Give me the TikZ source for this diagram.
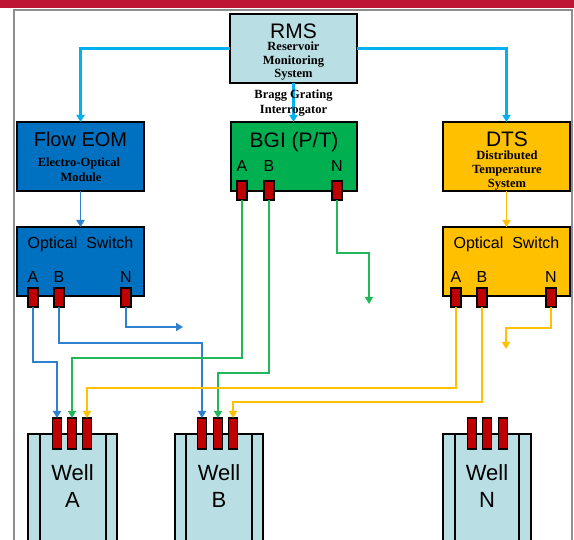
\documentclass[tikz,border=0pt]{standalone}
\usepackage{fontspec}
\setmainfont{Liberation Serif}
\setsansfont{Liberation Sans}
\usetikzlibrary{arrows.meta}
\definecolor{redbar}{HTML}{BE1632}
\definecolor{framegray}{HTML}{8E8E8E}
\definecolor{lightcyan}{HTML}{B9DFE4}
\definecolor{boxblue}{HTML}{0070C0}
\definecolor{boxgreen}{HTML}{00B050}
\definecolor{boxyellow}{HTML}{FFC000}
\definecolor{portred}{HTML}{C00000}
\definecolor{skyline}{HTML}{00B0F0}
\definecolor{wireblue}{HTML}{2F80D0}
\definecolor{wiregreen}{HTML}{22B85A}
\definecolor{wireyellow}{HTML}{FFC000}
\tikzset{
  box/.style={draw=black, line width=2.6pt, minimum width=127pt, minimum height=69pt, inner sep=0pt, outer sep=0pt},
  port/.style={draw=black, fill=portred, line width=1.4pt, minimum width=10pt, minimum height=19pt, inner sep=0pt, outer sep=0pt},
  wport/.style={port, minimum width=9pt, minimum height=31pt},
  wellbox/.style={draw=black, fill=lightcyan, line width=2.6pt},
  tip/.style={-{Triangle[width=8pt,length=7pt]}},
  wire/.style={line width=1.7pt, tip},
  bigtxt/.style={font=\sffamily\fontsize{21}{21}\selectfont, anchor=base, inner sep=0pt},
  midtxt/.style={font=\sffamily\fontsize{16}{16}\selectfont, anchor=base, inner sep=0pt},
  welltxt/.style={font=\sffamily\fontsize{22}{22}\selectfont, anchor=base, inner sep=0pt},
  smalltxt/.style={font=\bfseries\fontsize{12.5}{12.5}\selectfont, anchor=base, inner sep=0pt},
}
\begin{document}
\begin{tikzpicture}[x=1pt,y=-1pt]
\useasboundingbox (0,0) rectangle (574,540);
\clip (0,0) rectangle (574,540);
% frame
\fill[redbar] (0,0) rectangle (574,8);
\draw[framegray, line width=1.8pt] (13.7,545) -- (13.7,9.8) -- (572,9.8) -- (572,545);

% boxes
\node[box, fill=lightcyan] (rms) at (293.5,48.5) {};
\node[box, fill=boxblue] (eom) at (80.5,156.5) {};
\node[box, fill=boxgreen, minimum width=126pt] (bgi) at (294,156.5) {};
\node[box, fill=boxyellow] (dts) at (506.5,156.5) {};
\node[box, fill=boxblue] (swl) at (80.5,261.5) {};
\node[box, fill=boxyellow] (swr) at (506.5,261.5) {};

% wells
\draw[wellbox] (28,434) rectangle (117,560);
\draw[black, line width=2pt] (40,434) -- (40,560) (106,434) -- (106,560);
\draw[wellbox] (175,434) rectangle (263,560);
\draw[black, line width=2pt] (186,434) -- (186,560) (252,434) -- (252,560);
\draw[wellbox] (443,434) rectangle (531,560);
\draw[black, line width=2pt] (455,434) -- (455,560) (519,434) -- (519,560);

% ports
\node[port] (lA) at (33,297.5) {};
\node[port] (lB) at (59,297.5) {};
\node[port] (lN) at (126,297.5) {};
\node[port] (gA) at (242,190.5) {};
\node[port] (gB) at (269,190.5) {};
\node[port] (gN) at (337,190.5) {};
\node[port] (rA) at (456,297.5) {};
\node[port] (rB) at (482,297.5) {};
\node[port] (rN) at (551,297.5) {};
\node[wport] (wa1) at (57,433.5) {};
\node[wport] (wa2) at (72,433.5) {};
\node[wport] (wa3) at (87,433.5) {};
\node[wport] (wb1) at (202,433.5) {};
\node[wport] (wb2) at (218,433.5) {};
\node[wport] (wb3) at (233,433.5) {};
\node[wport] (wn1) at (472,433.5) {};
\node[wport] (wn2) at (487,433.5) {};
\node[wport] (wn3) at (503,433.5) {};

% top connectors
\draw[skyline, wire, line width=2.3pt] (rms.west) -| (eom.north);
\draw[skyline, wire, line width=2.3pt] (rms.east) -| (dts.north);
\draw[skyline, wire, line width=2.3pt] (rms.south) -- (rms.south |- bgi.north);
\draw[wireblue, wire] (eom.south) -- (swl.north);
\draw[wireyellow, wire] (dts.south) -- (swr.north);

% free ends
\coordinate (lNend) at (183,327);
\coordinate (gNend) at (369,304);
\coordinate (rNend) at (506,349);

% blue wires
\draw[wireblue, wire] (lA.south) -- ++(0,55) -| (wa1.north);
\draw[wireblue, wire] (lB.south) -- ++(0,36) -| (wb1.north);
\draw[wireblue, wire] (lN.south) |- (lNend);
% green wires
\draw[wiregreen, wire] (gA.south) -- ++(0,158) -| (wa2.north);
\draw[wiregreen, wire] (gB.south) -- ++(0,173) -| (wb2.north);
\draw[wiregreen, wire] (gN.south) -- ++(0,53) -| (gNend);
% yellow wires
\draw[wireyellow, wire] (rA.south) -- ++(0,81) -| (wa3.north);
\draw[wireyellow, wire] (rB.south) -- ++(0,95) -| (wb3.north);
\draw[wireyellow, wire] (rN.south) -- ++(0,21) -| (rNend);

% texts
\node[bigtxt] (tRMS) at (293.5,38.5) {RMS};
\node[smalltxt] (tRMS1) at (293.5,51) {Reservoir};
\node[smalltxt] (tRMS2) at (293.5,64.5) {Monitoring};
\node[smalltxt] (tRMS3) at (293.5,78) {System};
\node[smalltxt] (tBGI1) at (293.5,99) {Bragg Grating};
\node[smalltxt] (tBGI2) at (293.5,114) {Interrogator};

\node[bigtxt, font=\sffamily\fontsize{20}{20}\selectfont] (tEOM) at (80.5,147) {Flow EOM};
\node[smalltxt] (tEOM1) at (79,166.5) {Electro-Optical};
\node[smalltxt] (tEOM2) at (81,182) {Module};

\node[bigtxt] (tBGI) at (294,148) {BGI (P/T)};
\node[midtxt] (tgA) at (242,172) {A};
\node[midtxt] (tgB) at (269,172) {B};
\node[midtxt] (tgN) at (337,172) {N};

\node[bigtxt] (tDTS) at (507,146.5) {DTS};
\node[smalltxt] (tDTS1) at (507,159.5) {Distributed};
\node[smalltxt] (tDTS2) at (507,173.5) {Temperature};
\node[smalltxt] (tDTS3) at (507,187.5) {System};

\node[midtxt] (tswl) at (80.5,249) {Optical\ \ Switch};
\node[midtxt] (tlA) at (33,283) {A};
\node[midtxt] (tlB) at (59,283) {B};
\node[midtxt] (tlN) at (126,283) {N};

\node[midtxt] (tswr) at (506.5,249) {Optical\ \ Switch};
\node[midtxt] (trA) at (456,283) {A};
\node[midtxt] (trB) at (482,283) {B};
\node[midtxt] (trN) at (551,283) {N};

\node[welltxt] (twA1) at (72.5,481) {Well};
\node[welltxt] (twA2) at (72.5,508) {A};
\node[welltxt] (twB1) at (219,481) {Well};
\node[welltxt] (twB2) at (219,508) {B};
\node[welltxt] (twN1) at (487,481) {Well};
\node[welltxt] (twN2) at (487,508) {N};
\end{tikzpicture}
\end{document}
